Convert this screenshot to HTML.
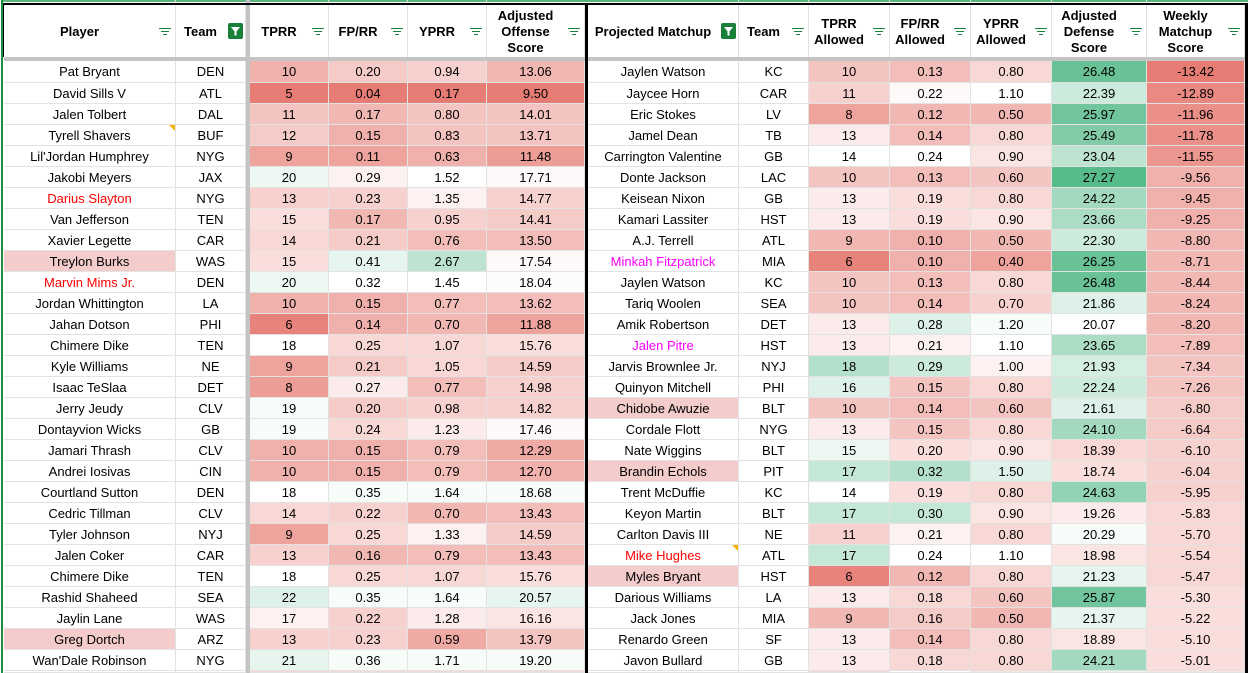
<!DOCTYPE html>
<html><head><meta charset="utf-8">
<style>
html,body{margin:0;padding:0;width:1251px;height:673px;overflow:hidden;background:#fff}
#wrap{position:relative;width:1251px;height:673px;overflow:hidden;background:#fff;font-family:"Liberation Sans",Arial,sans-serif;font-size:13px;color:#000}
.hdr,.body{position:absolute;left:4px}
.hdr{top:5px}
.body{top:61px}
.row{display:grid;grid-template-columns:172px 70px 83px 79px 79px 98px 154px 70px 81px 81px 81px 95px 98px;height:21px}
.row.f{height:22px}
.row>div{box-sizing:border-box;border-right:1px solid #e2e2e2;border-bottom:1px solid #e2e2e2;text-align:center;line-height:21px;white-space:nowrap;overflow:hidden;position:relative}
.row.f>div{line-height:22px}
.row>div:nth-child(3){margin-left:4px}
.row>div:nth-child(7){margin-left:3px}
.hdr .row{height:52px}
.hdr .row>div{border-bottom:none;display:flex;align-items:center;justify-content:center;padding-right:20px;padding-top:1px;font-weight:bold;line-height:16px;overflow:visible}
.fl{position:absolute;right:4px;top:23px;width:12px;height:9px}
.fl span{position:absolute;height:1px;background:#188038}
.fl span:nth-child(1){left:0;top:0;width:12px}
.fl span:nth-child(2){left:2px;top:3px;width:8px}
.fl span:nth-child(3){left:4px;top:6px;width:4px}
.fb{position:absolute;right:2px;top:18px;width:15px;height:16px;background:#188038;border-radius:2px}
.fb svg{display:block}
.ln{position:absolute}
.tri::after{content:"";position:absolute;right:0;top:0;width:0;height:0;border-top:6px solid #f4b400;border-left:6px solid transparent}
.red{color:#ff0000}.mag{color:#ff00ff}.p{background:#f4cccc}
.r0{background:#fefbfb}.r1{background:#fef8f8}.r2{background:#fdf2f1}.r3{background:#fbebea}.r4{background:#fae5e3}.r5{background:#f9dedc}.r6{background:#f8d8d5}.r7{background:#f6d1ce}.r8{background:#f5cbc7}.r9{background:#f4c4c0}.r10{background:#f3beb9}.r11{background:#f1b7b2}.r12{background:#f0b0ab}.r13{background:#efaaa4}.r14{background:#eea39d}.r15{background:#ec9d96}.r16{background:#eb968f}.r17{background:#ea9088}.r18{background:#e98981}.r19{background:#e7837a}.r20{background:#e67c73}
.g1{background:#f7fcf9}.g2{background:#eef8f3}.g3{background:#e6f5ed}.g4{background:#ddf1e8}.g5{background:#d5eee2}.g6{background:#cdebdc}.g7{background:#c4e7d6}.g8{background:#bce4d0}.g9{background:#b3e0ca}.g10{background:#abddc5}.g11{background:#a3dabf}.g13{background:#92d3b3}.g15{background:#81cca7}.g17{background:#70c59c}.g18{background:#68c296}.g20{background:#57bb8a}
</style></head><body><div id="wrap">

<div class="hdr"><div class="row">
<div>Player<span class="fl"><span></span><span></span><span></span></span></div>
<div>Team<span class="fb"><svg width="15" height="16" viewBox="0 0 15 16"><polygon points="3,4 12,4 8.5,8.5 8.5,12.5 6.5,12.5 6.5,8.5" fill="#fff"/></svg></span></div>
<div>TPRR<span class="fl"><span></span><span></span><span></span></span></div>
<div>FP/RR<span class="fl"><span></span><span></span><span></span></span></div>
<div>YPRR<span class="fl"><span></span><span></span><span></span></span></div>
<div>Adjusted<br>Offense<br>Score<span class="fl"><span></span><span></span><span></span></span></div>
<div style="white-space:nowrap">Projected Matchup<span class="fb"><svg width="15" height="16" viewBox="0 0 15 16"><polygon points="3,4 12,4 8.5,8.5 8.5,12.5 6.5,12.5 6.5,8.5" fill="#fff"/></svg></span></div>
<div>Team<span class="fl"><span></span><span></span><span></span></span></div>
<div>TPRR<br>Allowed<span class="fl"><span></span><span></span><span></span></span></div>
<div>FP/RR<br>Allowed<span class="fl"><span></span><span></span><span></span></span></div>
<div>YPRR<br>Allowed<span class="fl"><span></span><span></span><span></span></span></div>
<div>Adjusted<br>Defense<br>Score<span class="fl"><span></span><span></span><span></span></span></div>
<div>Weekly<br>Matchup<br>Score<span class="fl"><span></span><span></span><span></span></span></div>
</div></div>

<div class="body">
<div class="row f"><div>Pat Bryant</div><div>DEN</div><div class="r12">10</div><div class="r8">0.20</div><div class="r7">0.94</div><div class="r11">13.06</div><div>Jaylen Watson</div><div>KC</div><div class="r9">10</div><div class="r10">0.13</div><div class="r6">0.80</div><div class="g18">26.48</div><div class="r20">-13.42</div></div>
<div class="row"><div>David Sills V</div><div>ATL</div><div class="r20">5</div><div class="r20">0.04</div><div class="r20">0.17</div><div class="r20">9.50</div><div>Jaycee Horn</div><div>CAR</div><div class="r7">11</div><div class="r1">0.22</div><div>1.10</div><div class="g6">22.39</div><div class="r18">-12.89</div></div>
<div class="row"><div>Jalen Tolbert</div><div>DAL</div><div class="r9">11</div><div class="r11">0.17</div><div class="r9">0.80</div><div class="r9">14.01</div><div>Eric Stokes</div><div>LV</div><div class="r14">8</div><div class="r11">0.12</div><div class="r11">0.50</div><div class="g17">25.97</div><div class="r17">-11.96</div></div>
<div class="row"><div class="tri">Tyrell Shavers</div><div>BUF</div><div class="r8">12</div><div class="r12">0.15</div><div class="r9">0.83</div><div class="r9">13.71</div><div>Jamel Dean</div><div>TB</div><div class="r3">13</div><div class="r10">0.14</div><div class="r6">0.80</div><div class="g15">25.49</div><div class="r17">-11.78</div></div>
<div class="row"><div>Lil'Jordan Humphrey</div><div>NYG</div><div class="r14">9</div><div class="r14">0.11</div><div class="r12">0.63</div><div class="r15">11.48</div><div>Carrington Valentine</div><div>GB</div><div>14</div><div>0.24</div><div class="r4">0.90</div><div class="g8">23.04</div><div class="r16">-11.55</div></div>
<div class="row"><div>Jakobi Meyers</div><div>JAX</div><div class="g2">20</div><div class="r2">0.29</div><div>1.52</div><div class="r1">17.71</div><div>Donte Jackson</div><div>LAC</div><div class="r9">10</div><div class="r10">0.13</div><div class="r9">0.60</div><div class="g20">27.27</div><div class="r12">-9.56</div></div>
<div class="row"><div class="red">Darius Slayton</div><div>NYG</div><div class="r7">13</div><div class="r7">0.23</div><div class="r2">1.35</div><div class="r7">14.77</div><div>Keisean Nixon</div><div>GB</div><div class="r3">13</div><div class="r5">0.19</div><div class="r6">0.80</div><div class="g11">24.22</div><div class="r12">-9.45</div></div>
<div class="row"><div>Van Jefferson</div><div>TEN</div><div class="r5">15</div><div class="r11">0.17</div><div class="r7">0.95</div><div class="r8">14.41</div><div>Kamari Lassiter</div><div>HST</div><div class="r3">13</div><div class="r5">0.19</div><div class="r4">0.90</div><div class="g10">23.66</div><div class="r12">-9.25</div></div>
<div class="row"><div>Xavier Legette</div><div>CAR</div><div class="r6">14</div><div class="r8">0.21</div><div class="r10">0.76</div><div class="r10">13.50</div><div>A.J. Terrell</div><div>ATL</div><div class="r11">9</div><div class="r12">0.10</div><div class="r11">0.50</div><div class="g6">22.30</div><div class="r11">-8.80</div></div>
<div class="row"><div class="p">Treylon Burks</div><div>WAS</div><div class="r5">15</div><div class="g3">0.41</div><div class="g8">2.67</div><div class="r1">17.54</div><div class="mag">Minkah Fitzpatrick</div><div>MIA</div><div class="r19">6</div><div class="r12">0.10</div><div class="r14">0.40</div><div class="g18">26.25</div><div class="r11">-8.71</div></div>
<div class="row"><div class="red">Marvin Mims Jr.</div><div>DEN</div><div class="g2">20</div><div>0.32</div><div>1.45</div><div class="r0">18.04</div><div>Jaylen Watson</div><div>KC</div><div class="r9">10</div><div class="r10">0.13</div><div class="r6">0.80</div><div class="g18">26.48</div><div class="r11">-8.44</div></div>
<div class="row"><div>Jordan Whittington</div><div>LA</div><div class="r12">10</div><div class="r12">0.15</div><div class="r10">0.77</div><div class="r10">13.62</div><div>Tariq Woolen</div><div>SEA</div><div class="r9">10</div><div class="r10">0.14</div><div class="r7">0.70</div><div class="g4">21.86</div><div class="r11">-8.24</div></div>
<div class="row"><div>Jahan Dotson</div><div>PHI</div><div class="r19">6</div><div class="r12">0.14</div><div class="r11">0.70</div><div class="r14">11.88</div><div>Amik Robertson</div><div>DET</div><div class="r3">13</div><div class="g4">0.28</div><div class="g1">1.20</div><div>20.07</div><div class="r11">-8.20</div></div>
<div class="row"><div>Chimere Dike</div><div>TEN</div><div>18</div><div class="r6">0.25</div><div class="r6">1.07</div><div class="r5">15.76</div><div class="mag">Jalen Pitre</div><div>HST</div><div class="r3">13</div><div class="r2">0.21</div><div>1.10</div><div class="g10">23.65</div><div class="r10">-7.89</div></div>
<div class="row"><div>Kyle Williams</div><div>NE</div><div class="r14">9</div><div class="r8">0.21</div><div class="r6">1.05</div><div class="r8">14.59</div><div>Jarvis Brownlee Jr.</div><div>NYJ</div><div class="g9">18</div><div class="g6">0.29</div><div class="r2">1.00</div><div class="g5">21.93</div><div class="r9">-7.34</div></div>
<div class="row"><div>Isaac TeSlaa</div><div>DET</div><div class="r15">8</div><div class="r3">0.27</div><div class="r10">0.77</div><div class="r7">14.98</div><div>Quinyon Mitchell</div><div>PHI</div><div class="g4">16</div><div class="r9">0.15</div><div class="r6">0.80</div><div class="g6">22.24</div><div class="r9">-7.26</div></div>
<div class="row"><div>Jerry Jeudy</div><div>CLV</div><div class="g1">19</div><div class="r8">0.20</div><div class="r7">0.98</div><div class="r7">14.82</div><div class="p">Chidobe Awuzie</div><div>BLT</div><div class="r9">10</div><div class="r10">0.14</div><div class="r9">0.60</div><div class="g4">21.61</div><div class="r8">-6.80</div></div>
<div class="row"><div>Dontayvion Wicks</div><div>GB</div><div class="g1">19</div><div class="r6">0.24</div><div class="r3">1.23</div><div class="r1">17.46</div><div>Cordale Flott</div><div>NYG</div><div class="r3">13</div><div class="r9">0.15</div><div class="r6">0.80</div><div class="g11">24.10</div><div class="r8">-6.64</div></div>
<div class="row"><div>Jamari Thrash</div><div>CLV</div><div class="r12">10</div><div class="r12">0.15</div><div class="r10">0.79</div><div class="r13">12.29</div><div>Nate Wiggins</div><div>BLT</div><div class="g2">15</div><div class="r5">0.20</div><div class="r4">0.90</div><div class="r6">18.39</div><div class="r7">-6.10</div></div>
<div class="row"><div>Andrei Iosivas</div><div>CIN</div><div class="r12">10</div><div class="r12">0.15</div><div class="r10">0.79</div><div class="r12">12.70</div><div class="p">Brandin Echols</div><div>PIT</div><div class="g7">17</div><div class="g9">0.32</div><div class="g4">1.50</div><div class="r5">18.74</div><div class="r7">-6.04</div></div>
<div class="row"><div>Courtland Sutton</div><div>DEN</div><div>18</div><div class="g1">0.35</div><div class="g1">1.64</div><div class="g1">18.68</div><div>Trent McDuffie</div><div>KC</div><div>14</div><div class="r5">0.19</div><div class="r6">0.80</div><div class="g13">24.63</div><div class="r7">-5.95</div></div>
<div class="row"><div>Cedric Tillman</div><div>CLV</div><div class="r6">14</div><div class="r7">0.22</div><div class="r11">0.70</div><div class="r10">13.43</div><div>Keyon Martin</div><div>BLT</div><div class="g7">17</div><div class="g7">0.30</div><div class="r4">0.90</div><div class="r3">19.26</div><div class="r6">-5.83</div></div>
<div class="row"><div>Tyler Johnson</div><div>NYJ</div><div class="r14">9</div><div class="r6">0.25</div><div class="r2">1.33</div><div class="r8">14.59</div><div>Carlton Davis III</div><div>NE</div><div class="r7">11</div><div class="r2">0.21</div><div class="r6">0.80</div><div class="g1">20.29</div><div class="r6">-5.70</div></div>
<div class="row"><div>Jalen Coker</div><div>CAR</div><div class="r7">13</div><div class="r11">0.16</div><div class="r10">0.79</div><div class="r10">13.43</div><div class="red tri">Mike Hughes</div><div>ATL</div><div class="g7">17</div><div>0.24</div><div>1.10</div><div class="r4">18.98</div><div class="r6">-5.54</div></div>
<div class="row"><div>Chimere Dike</div><div>TEN</div><div>18</div><div class="r6">0.25</div><div class="r6">1.07</div><div class="r5">15.76</div><div class="p">Myles Bryant</div><div>HST</div><div class="r19">6</div><div class="r11">0.12</div><div class="r6">0.80</div><div class="g3">21.23</div><div class="r6">-5.47</div></div>
<div class="row"><div>Rashid Shaheed</div><div>SEA</div><div class="g4">22</div><div class="g1">0.35</div><div class="g1">1.64</div><div class="g3">20.57</div><div>Darious Williams</div><div>LA</div><div class="r3">13</div><div class="r6">0.18</div><div class="r9">0.60</div><div class="g17">25.87</div><div class="r5">-5.30</div></div>
<div class="row"><div>Jaylin Lane</div><div>WAS</div><div class="r2">17</div><div class="r7">0.22</div><div class="r3">1.28</div><div class="r4">16.16</div><div>Jack Jones</div><div>MIA</div><div class="r11">9</div><div class="r8">0.16</div><div class="r11">0.50</div><div class="g3">21.37</div><div class="r5">-5.22</div></div>
<div class="row"><div class="p">Greg Dortch</div><div>ARZ</div><div class="r7">13</div><div class="r7">0.23</div><div class="r13">0.59</div><div class="r9">13.79</div><div>Renardo Green</div><div>SF</div><div class="r3">13</div><div class="r10">0.14</div><div class="r6">0.80</div><div class="r4">18.89</div><div class="r5">-5.10</div></div>
<div class="row"><div>Wan'Dale Robinson</div><div>NYG</div><div class="g3">21</div><div class="g1">0.36</div><div class="g1">1.71</div><div class="g1">19.20</div><div>Javon Bullard</div><div>GB</div><div class="r3">13</div><div class="r6">0.18</div><div class="r6">0.80</div><div class="g11">24.21</div><div class="r5">-5.01</div></div>
<div class="row" style="height:2px;overflow:hidden"><div></div><div></div><div class="r6"></div><div class="r6"></div><div class="r6"></div><div class="r6"></div><div></div><div></div><div class="r6"></div><div></div><div class="r4"></div><div class="g3"></div><div class="r4"></div></div>
</div>

<div class="ln" style="left:2px;top:0;width:1246px;height:2px;background:#5cb37a"></div>
<div class="ln" style="left:175px;top:0;width:1px;height:3px;background:#e2e2e2"></div>
<div class="ln" style="left:328px;top:0;width:1px;height:3px;background:#e2e2e2"></div>
<div class="ln" style="left:407px;top:0;width:1px;height:3px;background:#e2e2e2"></div>
<div class="ln" style="left:486px;top:0;width:1px;height:3px;background:#e2e2e2"></div>
<div class="ln" style="left:738px;top:0;width:1px;height:3px;background:#e2e2e2"></div>
<div class="ln" style="left:808px;top:0;width:1px;height:3px;background:#e2e2e2"></div>
<div class="ln" style="left:889px;top:0;width:1px;height:3px;background:#e2e2e2"></div>
<div class="ln" style="left:970px;top:0;width:1px;height:3px;background:#e2e2e2"></div>
<div class="ln" style="left:1051px;top:0;width:1px;height:3px;background:#e2e2e2"></div>
<div class="ln" style="left:1146px;top:0;width:1px;height:3px;background:#e2e2e2"></div>
<div class="ln" style="left:246px;top:0;width:4px;height:673px;background:#c4c4c4"></div>
<div class="ln" style="left:4px;top:57px;width:1244px;height:4px;background:#c4c4c4"></div>
<div class="ln" style="left:3px;top:3px;width:1245px;height:2px;background:#000"></div>
<div class="ln" style="left:1px;top:0;width:2px;height:673px;background:#1e8e3e"></div>
<div class="ln" style="left:3px;top:3px;width:1px;height:54px;background:#000"></div>
<div class="ln" style="left:585px;top:3px;width:3px;height:670px;background:#000"></div>
<div class="ln" style="left:1245px;top:3px;width:3px;height:670px;background:#000"></div>
</div></body></html>
